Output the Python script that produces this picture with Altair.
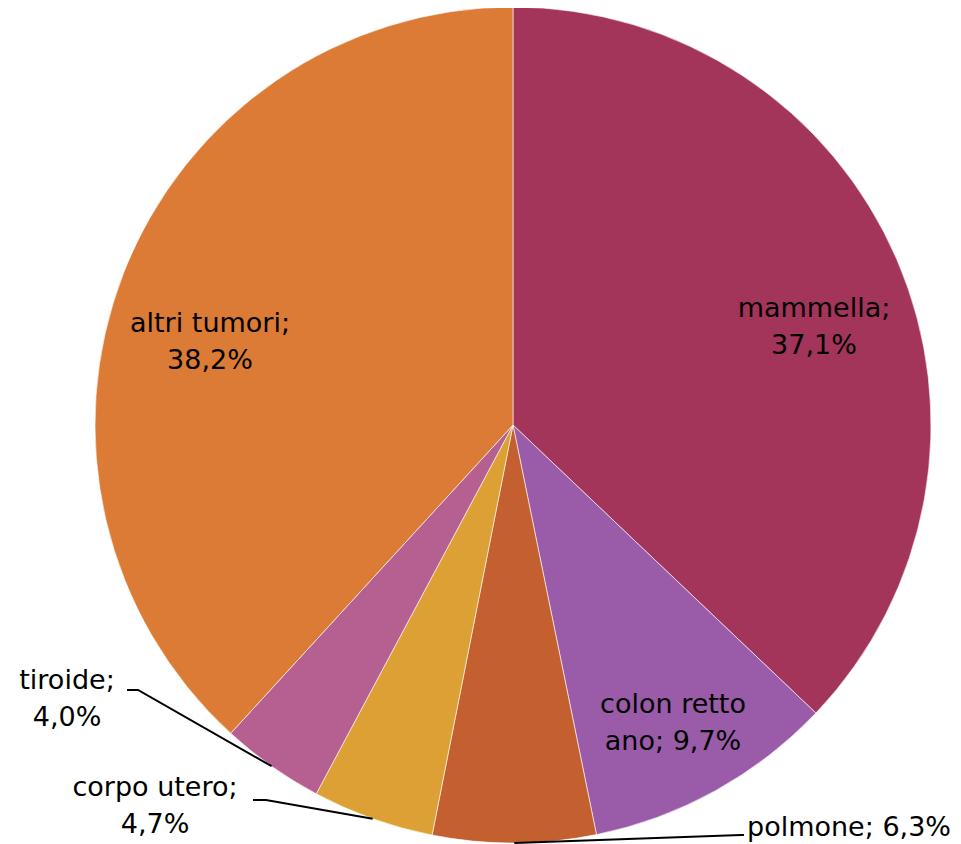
import math
import altair as alt
import pandas as pd

# ---- data ----
categories = ["mammella", "colon retto ano", "polmone", "corpo utero", "tiroide", "altri tumori"]
values = [37.1, 9.7, 6.3, 4.7, 4.0, 38.2]
labels = ["mammella;\n37,1%", "colon retto\nano; 9,7%", "polmone; 6,3%",
          "corpo utero;\n4,7%", "tiroide;\n4,0%", "altri tumori;\n38,2%"]

# ---- style / layout ----
colors = ["#A3355A", "#9A5BA8", "#C45F30", "#DCA034", "#B65F91", "#DC7B36"]
W, H = 945, 836
CX, CY, R = 505, 417, 418
FONT = "DejaVu Sans"
FS = 27
LH = 37
# label block centre offset from pie centre (dx, dy), align
label_layout = {
    "mammella": (301, -98, "center"),
    "colon retto ano": (160, 298, "center"),
    "polmone": (234, 403, "left"),
    "corpo utero": (-358, 381, "center"),
    "tiroide": (-446, 274, "center"),
    "altri tumori": (-303, -83, "center"),
}
# leader points (offsets from pie centre) after the slice edge point
leader_layout = {
    "polmone": [(228, 410), (231, 410)],
    "corpo utero": [(-247, 375), (-260, 375)],
    "tiroide": [(-375, 265), (-386, 265)],
}

def polar(a_deg, r):
    a = math.radians(a_deg)
    return CX + r * math.sin(a), CY - r * math.cos(a)

total = sum(values)
cum = 0.0
mids = []
for v in values:
    mids.append((cum + v / 2) / total * 360.0)
    cum += v

df = pd.DataFrame({"cat": categories, "value": values, "idx": range(len(values))})

lab_rows = []
for c, lab in zip(categories, labels):
    dx, dy, al = label_layout[c]
    n = lab.count("\n") + 1
    lab_rows.append({"cat": c, "label": lab, "x": CX + dx,
                     "y": CY + dy - (n - 1) * LH / 2, "align": al})
lab_df = pd.DataFrame(lab_rows)

lead_rows = []
for c, m in zip(categories, mids):
    if c in leader_layout:
        pts = [polar(m, R)] + [(CX + dx, CY + dy) for dx, dy in leader_layout[c]]
        for i, (x, y) in enumerate(pts):
            lead_rows.append({"cat": c, "seq": i, "x": x, "y": y})
lead_df = pd.DataFrame(lead_rows)

pie = alt.Chart(df).mark_arc(outerRadius=R, stroke="white", strokeWidth=0.6).encode(
    theta=alt.Theta("value:Q", stack=True),
    color=alt.Color("cat:N", scale=alt.Scale(domain=categories, range=colors), legend=None),
    order=alt.Order("idx:Q"),
    x=alt.value(CX),
    y=alt.value(CY),
)

def text_layer(al):
    sub = lab_df[lab_df["align"] == al]
    return alt.Chart(sub).mark_text(
        font=FONT, fontSize=FS, lineBreak="\n", lineHeight=LH, align=al,
        baseline="middle", color="black"
    ).encode(
        x=alt.X("x:Q", scale=None),
        y=alt.Y("y:Q", scale=None),
        text="label:N",
    )

leaders = alt.Chart(lead_df).mark_line(color="black", strokeWidth=2).encode(
    x=alt.X("x:Q", scale=None),
    y=alt.Y("y:Q", scale=None),
    detail="cat:N",
    order="seq:Q",
)

chart = alt.layer(pie, leaders, text_layer("center"), text_layer("left")).properties(
    width=W, height=H, autosize="none", padding=0
).configure_view(stroke=None)

chart.save("out.html", embed_options={"renderer": "svg", "actions": False})
